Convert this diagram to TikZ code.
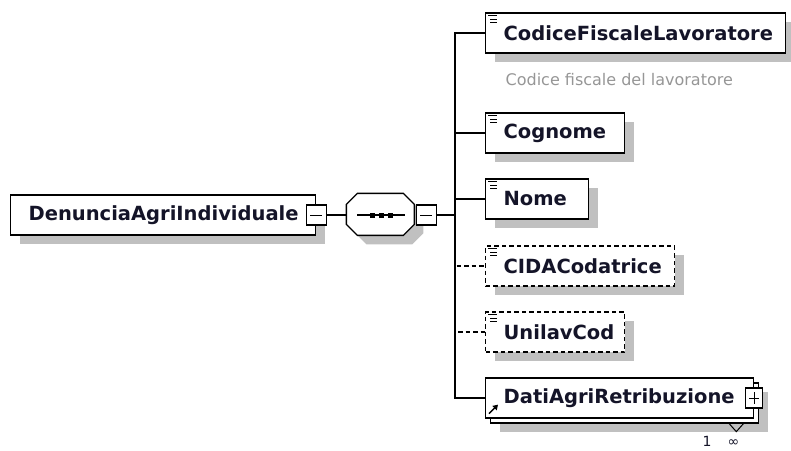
\documentclass[tikz,border=0pt]{standalone}
\usepackage{fontspec}
\setmainfont{DejaVu Sans}
\usetikzlibrary{shadows,arrows.meta}
\definecolor{shadowgray}{RGB}{192,192,192}
\definecolor{captiongray}{RGB}{150,150,150}
\definecolor{ink}{RGB}{20,20,40}
\begin{document}
\begin{tikzpicture}[x=1pt, y=-1pt, line width=1.3pt,
	shadowed/.style={drop shadow={shadow xshift=9pt, shadow yshift=-9pt, fill=shadowgray, opacity=1}},
	box/.style={draw, fill=white, minimum height=40, inner xsep=18pt, inner ysep=0pt, align=left, anchor=west, text=ink, font=\fontsize{19.5}{22}\selectfont\bfseries},
	elem/.style={box, shadowed, text width=#1},
	optional/.style={dash pattern=on 4.5pt off 3pt},
	pm/.style={draw, fill=white, minimum width=20, minimum height=20, inner sep=0pt, line width=1.2pt},
	minus/.style={pm, path picture={\draw[line width=1pt] ([xshift=4pt]path picture bounding box.west) -- ([xshift=-4pt]path picture bounding box.east);}},
	plus/.style={pm, path picture={\draw[line width=1pt] ([xshift=3.5pt]path picture bounding box.west) -- ([xshift=-3.5pt]path picture bounding box.east)
		([yshift=-4pt]path picture bounding box.north) -- ([yshift=4pt]path picture bounding box.south);}},
	docicon/.style={line width=1.2pt}]
	\useasboundingbox (0,0) rectangle (791,450);
	\node[box, shadowed, text width=269pt] (root) at (10,215) {DenunciaAgriIndividuale};
	\node[minus] (rootm) at (root.east) {};
	\node[minimum width=68, minimum height=42, inner sep=0pt] (seq) at (381,215) {};
	\draw[fill=white, shadowed] ([xshift=11pt]seq.north west) -- ++(46,0) -- ++(11,11) -- ++(0,20) -- ++(-11,11) -- ++(-46,0) -- ++(-11,-11) -- ++(0,-20) -- cycle;
	\node[minus, anchor=west] (seqm) at (seq.east) {};
	\coordinate (bus) at (455,215);
	\draw ([xshift=-24pt]seq.center) -- ([xshift=24pt]seq.center);
	\foreach \dx in {-9,0,9}
		\fill ([xshift=\dx pt]seq.center) +(-2.5,-2.5) rectangle +(2.5,2.5);
	\node[elem=264pt] (cfl) at (485,33) {CodiceFiscaleLavoratore};
	\node[anchor=west, inner sep=0pt, text=captiongray, font=\fontsize{16}{18}\selectfont] (cfldesc) at (505,80) {Codice fiscale del lavoratore};
	\node[elem=103pt] (cog) at (485,133) {Cognome};
	\node[elem=67pt] (nome) at (485,199) {Nome};
	\node[elem=153pt, optional] (cida) at (485,266) {CIDACodatrice};
	\node[elem=103pt, optional] (unilav) at (485,332) {UnilavCod};
	\node[box, text width=232pt, drop shadow={shadow xshift=14pt, shadow yshift=-14pt, fill=shadowgray, opacity=1}, copy shadow={shadow xshift=5pt, shadow yshift=-5pt, fill=white, draw=black}] (dati) at (485,398) {DatiAgriRetribuzione};
	\node[plus, minimum width=17] (datip) at (dati.east) {};
	\node[inner sep=0pt, text=ink, font=\fontsize{14}{16}\selectfont] (occ) at (721,441) {1\hspace{16pt}∞};
	\draw[line width=1pt] ([shift={(-26,4)}]dati.south east) -- ([shift={(-18,13)}]dati.south east) -- ([shift={(-10,4)}]dati.south east);
	\draw[line width=1.5pt, -{Triangle[length=5pt, width=6pt]}] ([shift={(4,-5)}]dati.south west) -- ([shift={(13,-14)}]dati.south west);
	\foreach \n in {cfl,cog,nome,cida,unilav}
		\draw[docicon] ([shift={(3,3.5)}]\n.north west) -- ([shift={(12,3.5)}]\n.north west)
			([shift={(5,7)}]\n.north west) -- ([shift={(12,7)}]\n.north west)
			([shift={(5,10.5)}]\n.north west) -- ([shift={(12,10.5)}]\n.north west);
	\draw (rootm) -- (seq);
	\draw (seqm) -- (bus);
	\draw (bus) |- (cfl.west);
	\draw (bus) |- (cog.west);
	\draw (bus) |- (nome.west);
	\draw[optional] (bus) |- (cida.west);
	\draw[optional] (bus) |- (unilav.west);
	\draw (bus) |- (dati.west);
\end{tikzpicture}
\end{document}
